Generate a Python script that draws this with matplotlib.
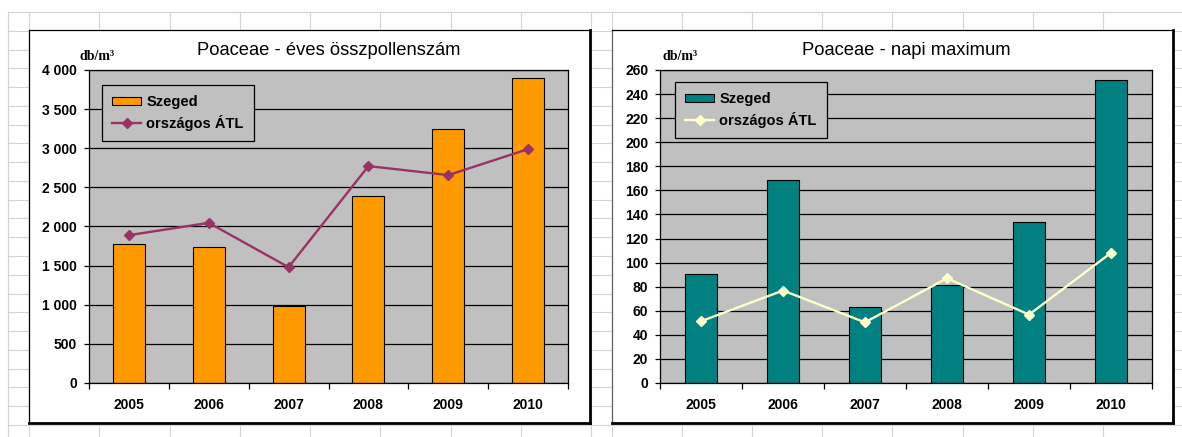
import matplotlib
matplotlib.use("Agg")
from matplotlib import pyplot as plt
from matplotlib.lines import Line2D
from matplotlib.patches import Rectangle
from matplotlib.ticker import FixedLocator, FuncFormatter, NullFormatter

years = ["2005", "2006", "2007", "2008", "2009", "2010"]
szeged_total = [1770, 1736, 989, 2384, 3245, 3893]
atl_total = [1889, 2047, 1480, 2772, 2657, 2989]
szeged_max = [90.6, 168.5, 63.2, 81.8, 133.9, 251.4]
atl_max = [51.3, 76.8, 50.4, 87.0, 56.8, 108.1]

W, H = 1182, 437
plt.rcParams["font.family"] = ["Liberation Sans", "DejaVu Sans"]

fig = plt.figure(figsize=(W / 100, H / 100), dpi=100)
fig.patch.set_facecolor("white")


def fx(x):
    return x / W


def fy(y):
    return 1 - y / H


# excel sheet grid in the background
col_x = [8] + [29 + 70.25 * k for k in range(9)] + [612 + 70.1 * k for k in range(8)]
row_y = [12 + 18.77 * k for k in range(23)]
for x in col_x:
    fig.add_artist(Line2D([fx(x), fx(x)], [fy(12), 0], transform=fig.transFigure,
                          color="#d4d4d4", lw=0.8, zorder=0.5))
for y in row_y:
    fig.add_artist(Line2D([fx(8), 1], [fy(y), fy(y)], transform=fig.transFigure,
                          color="#d4d4d4", lw=0.8, zorder=0.5))


def chart_box(x0, x1, y0, y1, left_col="black"):
    fig.add_artist(Rectangle((fx(x0), fy(y1)), fx(x1 - x0), (y1 - y0) / H,
                             transform=fig.transFigure, facecolor="white",
                             edgecolor="none", zorder=1))
    kw = dict(transform=fig.transFigure, zorder=1.5)
    fig.add_artist(Line2D([fx(x0), fx(x0)], [fy(y0), fy(y1)], color=left_col, lw=0.9, **kw))
    fig.add_artist(Line2D([fx(x0), fx(x1)], [fy(y0), fy(y0)], color="black", lw=0.9, **kw))
    # shadow on the right and bottom edges
    fig.add_artist(Line2D([fx(x1), fx(x1)], [fy(y0), fy(y1)], color="black", lw=2.0, **kw))
    fig.add_artist(Line2D([fx(x0), fx(x1)], [fy(y1), fy(y1)], color="black", lw=2.0, **kw))


chart_box(29, 590, 30, 423)
chart_box(612, 1173, 30, 423, left_col="#606060")


def thousands(v, pos):
    return f"{int(v):,}".replace(",", " ")


def draw_panel(rect, bars, line, bar_col, line_col, ymax, ystep, title,
               unit_xy, legend_anchor, fmt):
    x0, y0, x1, y1 = rect
    ax = fig.add_axes([fx(x0), fy(y1), fx(x1 - x0), (y1 - y0) / H])
    ax.set_zorder(5)
    ax.set_facecolor("#c0c0c0")
    pos = list(range(len(years)))
    b = ax.bar(pos, bars, width=0.4, color=bar_col, edgecolor="black", lw=0.8,
               label="Szeged", zorder=2)
    ln, = ax.plot(pos, line, color=line_col, lw=1.7, marker="D", ms=5.5,
                  label="országos ÁTL", zorder=3)
    ax.set_xlim(-0.5, len(years) - 0.5)
    ax.set_ylim(0, ymax)
    ax.set_yticks([ystep * k for k in range(int(ymax / ystep) + 1)])
    ax.yaxis.set_major_formatter(FuncFormatter(fmt))
    ax.grid(axis="y", color="black", lw=0.9)
    ax.set_axisbelow(True)

    ax.xaxis.set_major_locator(FixedLocator([p - 0.5 for p in pos] + [pos[-1] + 0.5]))
    ax.xaxis.set_major_formatter(NullFormatter())
    ax.xaxis.set_minor_locator(FixedLocator(pos))
    ax.set_xticklabels(years, minor=True)
    ax.tick_params(axis="x", which="major", length=4, width=0.9, direction="out")
    ax.tick_params(axis="x", which="minor", length=0, pad=11)
    ax.tick_params(axis="y", length=3.5, width=0.9, pad=5)
    for lab in ax.get_yticklabels() + ax.get_xticklabels(minor=True):
        lab.set_fontsize(10)
        lab.set_fontweight("bold")
    for s in ax.spines.values():
        s.set_color("black")
        s.set_linewidth(0.9)

    ax.text(0.5, (y1 - 51) / (y1 - y0), title, transform=ax.transAxes,
            ha="center", va="center", fontsize=13.2)
    fig.text(fx(unit_xy[0]), fy(unit_xy[1]), "db/m³", ha="center", va="center",
             fontsize=10, fontweight="bold", family=["Liberation Serif", "DejaVu Serif"],
             zorder=6)

    leg = ax.legend([b, ln], ["Szeged", "országos ÁTL"], loc="upper left",
                    bbox_to_anchor=legend_anchor,
                    fancybox=False, framealpha=1, edgecolor="black",
                    facecolor="#c0c0c0", prop={"weight": "bold", "size": 10.5},
                    handlelength=2.0, handleheight=0.5, handletextpad=0.35,
                    labelspacing=0.4, borderpad=0.7, borderaxespad=0,
                    numpoints=1)
    leg.get_frame().set_linewidth(0.9)
    return ax


draw_panel((89, 70, 568, 383), szeged_total, atl_total, "#ff9900", "#993366",
           4000, 500, "Poaceae - éves összpollenszám", (97, 56),
           ((102 - 89) / 479, (383 - 85) / 313), thousands)
draw_panel((660, 70, 1152, 383), szeged_max, atl_max, "#008080", "#ffffcc",
           260, 20, "Poaceae - napi maximum", (680, 56),
           ((675 - 660) / 492, (383 - 82) / 313), lambda v, p: f"{int(v)}")

fig.savefig("out.png", dpi=100)
